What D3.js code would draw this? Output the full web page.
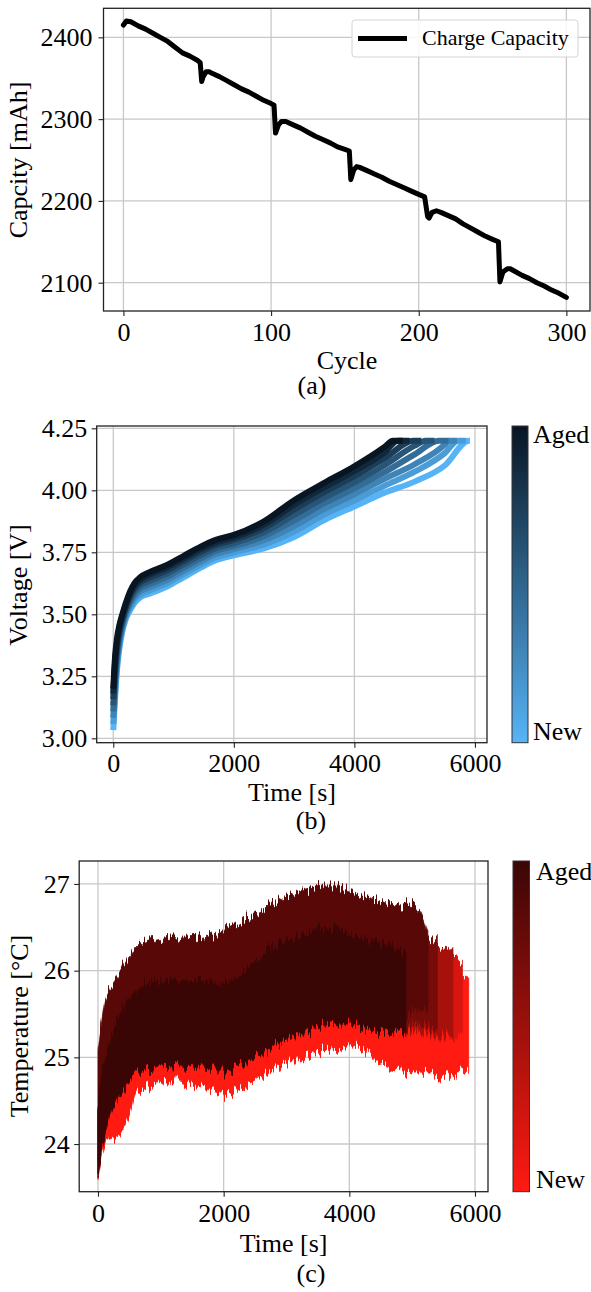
<!DOCTYPE html>
<html><head><meta charset="utf-8">
<script src="https://cdn.jsdelivr.net/npm/d3@7"></script>
<style>
body{margin:0;background:#fff;}
svg{display:block;}
text{font-family:"Liberation Serif","Times New Roman",serif;fill:#000;}
</style></head><body>
<svg id="fig" width="591" height="1292"></svg>
<script>
// ---------- Panel (a): charge capacity vs cycle ----------
const capCycle = [0,2,5,10,15,20,25,30,35,40,45,50,52,53,54,56,58,60,65,70,75,80,85,90,95,100,102,103,105,107,110,115,120,125,130,135,140,145,150,153,154,156,158,160,165,170,175,180,185,190,195,200,204,206,207,209,212,215,220,225,230,235,240,245,250,254,255,257,260,262,265,270,275,280,285,290,295,300];
const capValue = [2415,2420,2419,2414,2410,2405,2400,2395,2388,2381,2377,2372,2369,2346,2352,2358,2358,2356,2352,2347,2342,2337,2333,2328,2323,2319,2317,2283,2293,2297,2297,2293,2289,2284,2279,2275,2271,2266,2263,2261,2226,2238,2242,2241,2237,2233,2229,2224,2220,2216,2212,2208,2205,2181,2179,2186,2188,2186,2182,2178,2172,2167,2162,2157,2153,2150,2101,2113,2117,2117,2114,2109,2105,2100,2096,2091,2087,2082];
const capTicksX = [0,100,200,300];
const capTicksY = [2100,2200,2300,2400];

// ---------- Panel (b): voltage curves (new -> aged) ----------
const timeV = [0,30,60,100,150,200,275,350,450,600,900,1150,1450,1700,2000,2500,3000,3500,4000,4500,5000,5500];
const volt0 = [3.033,3.160,3.270,3.360,3.430,3.475,3.515,3.545,3.568,3.583,3.613,3.647,3.688,3.718,3.738,3.766,3.812,3.880,3.935,3.990,4.035,4.100];
const volt1 = [3.058,3.186,3.290,3.374,3.441,3.485,3.526,3.557,3.580,3.596,3.626,3.660,3.701,3.730,3.750,3.782,3.834,3.902,3.959,4.018,4.075,4.150];
const volt2 = [3.083,3.211,3.309,3.389,3.451,3.495,3.538,3.569,3.593,3.609,3.639,3.673,3.714,3.743,3.763,3.799,3.856,3.925,3.984,4.046,4.105,4.185];
const volt3 = [3.108,3.237,3.329,3.403,3.462,3.504,3.549,3.581,3.605,3.622,3.652,3.686,3.726,3.755,3.775,3.815,3.879,3.948,4.008,4.073,4.145];
const volt4 = [3.133,3.262,3.348,3.417,3.472,3.514,3.560,3.593,3.617,3.635,3.665,3.699,3.739,3.767,3.787,3.831,3.901,3.970,4.032,4.101,4.180];
const volt5 = [3.158,3.288,3.368,3.431,3.483,3.524,3.571,3.605,3.630,3.648,3.678,3.712,3.752,3.780,3.800,3.848,3.923,3.993,4.057,4.129];
const volt6 = [3.180,3.310,3.384,3.444,3.492,3.532,3.581,3.615,3.640,3.660,3.690,3.723,3.763,3.790,3.810,3.862,3.942,4.012,4.078,4.153];
const volt7 = [3.200,3.330,3.400,3.455,3.500,3.540,3.590,3.625,3.650,3.670,3.700,3.733,3.773,3.800,3.820,3.875,3.960,4.030,4.097,4.175];
const voltReach = [5900,5720,5560,5400,5180,4980,4720,4640];   // time when 4.2 V is reached
const voltEnd   = [5917,5850,5700,5560,5330,5110,4915,4800];   // end of the 4.2 V hold
const voltCutoff = 4.2;
const voltAge = [0,0.15,0.30,0.45,0.60,0.75,0.88,1.0];
const voltTicksX = [0,2000,4000,6000];
const voltTicksY = [3.00,3.25,3.50,3.75,4.00,4.25];

// ---------- Panel (c): temperature envelopes (new -> aged) ----------
const timeT = [0,50,100,200,300,400,500,600,750,1000,1250,1500,1750,2000,2250,2500,2750,3000,3250,3500,3750,4000,4250,4500,4750,4900,5000,5100,5250,5400,5500,5650,5800,5900];
const temp0Low  = [23.60,23.85,23.97,24.06,24.07,24.18,24.33,24.55,24.65,24.70,24.73,24.68,24.64,24.57,24.63,24.74,24.85,24.93,25.00,25.07,25.10,25.12,25.08,24.93,24.85,24.84,24.83,24.83,24.82,24.80,24.78,24.80,24.82,24.85];
const temp0High = [23.90,24.20,24.36,24.66,24.80,24.92,25.02,25.10,25.16,25.19,25.20,25.19,25.17,25.13,25.22,25.30,25.42,25.50,25.58,25.65,25.70,25.68,25.63,25.60,25.60,25.58,25.60,25.62,25.65,25.70,25.75,25.80,25.90,25.95];
const temp1Low  = [23.67,23.95,24.11,24.41,24.55,24.67,24.77,24.85,24.91,24.94,24.95,24.94,24.92,24.88,24.97,25.05,25.17,25.25,25.33,25.40,25.45,25.43,25.38,25.35,25.35,25.33,25.30,25.28,25.25,25.25,25.22,25.22,25.25];
const temp1High = [24.40,24.75,24.92,25.20,25.42,25.57,25.68,25.76,25.83,25.88,25.89,25.87,25.88,25.84,25.95,26.10,26.25,26.35,26.42,26.47,26.48,26.44,26.37,26.32,26.27,26.20,26.20,26.20,26.18,26.15,26.15,26.12,26.10];
const temp2Low  = [23.67,23.95,24.11,24.41,24.55,24.67,24.77,24.85,24.91,24.94,24.95,24.94,24.92,24.88,24.97,25.05,25.17,25.25,25.33,25.40,25.45,25.43,25.38,25.35,25.35,25.33,25.32,25.30,25.28,25.27,25.25,25.25];
const temp2High = [24.40,24.75,24.92,25.20,25.42,25.57,25.68,25.76,25.83,25.88,25.89,25.87,25.88,25.84,25.95,26.10,26.25,26.35,26.42,26.47,26.48,26.44,26.37,26.32,26.27,26.20,26.30,26.30,26.28,26.25,26.25,26.20];
const temp3Low  = [23.67,23.95,24.11,24.41,24.55,24.67,24.77,24.85,24.91,24.94,24.95,24.94,24.92,24.88,24.97,25.05,25.17,25.25,25.33,25.40,25.45,25.43,25.38,25.35,25.35,25.33,25.40,25.38,25.35,25.33];
const temp3High = [24.40,24.75,24.92,25.20,25.42,25.57,25.68,25.76,25.83,25.88,25.89,25.87,25.88,25.84,25.95,26.10,26.25,26.35,26.42,26.47,26.48,26.44,26.37,26.32,26.27,26.20,26.40,26.40,26.38,26.35];
const temp4Low  = [23.82,24.10,24.26,24.56,24.70,24.82,24.92,25.00,25.06,25.09,25.10,25.09,25.07,25.03,25.12,25.20,25.32,25.40,25.48,25.55,25.60,25.58,25.53,25.50,25.50,25.48,25.55,25.55,25.55];
const temp4High = [25.08,25.35,25.60,25.80,25.92,26.06,26.15,26.27,26.33,26.36,26.38,26.37,26.40,26.45,26.55,26.65,26.75,26.85,26.93,26.97,26.98,26.93,26.86,26.80,26.76,26.76,26.75,26.72,26.45];
const temp5Low  = [23.62,23.90,24.06,24.36,24.50,24.62,24.72,24.80,24.86,24.89,24.90,24.89,24.87,24.83,24.92,25.00,25.12,25.20,25.28,25.35,25.40,25.38,25.33,25.30,25.30,25.28];
const temp5High = [24.40,24.75,24.92,25.20,25.42,25.57,25.68,25.76,25.83,25.88,25.89,25.87,25.88,25.84,25.95,26.10,26.25,26.35,26.42,26.47,26.48,26.44,26.37,26.32,26.27,26.20];
const tempAge = [0,0.2,0.45,0.7,0.85,1.0];
const tempTicksX = [0,2000,4000,6000];
const tempTicksY = [24,25,26,27];

const colorbarLabels = ["Aged","New"];

// ---------- helpers ----------
const svg = d3.select("#fig");
const defs = svg.append("defs");
const FS = 26;
const SERIF = '"Liberation Serif","Times New Roman",serif';

const blueMap = d3.interpolateRgb("#56b4f6", "#081522");
const redMap  = d3.interpolateRgb("#ff1a12", "#3a0605");

function frame(g, x, y, xTicks, yTicks) {
  const [x0, x1] = x.range(), [yb, yt] = y.range();
  g.append("g").selectAll("line").data(xTicks).join("line")
    .attr("x1", d => x(d)).attr("x2", d => x(d)).attr("y1", yt).attr("y2", yb)
    .attr("stroke", "#c8c8c8").attr("stroke-width", 1.3);
  g.append("g").selectAll("line").data(yTicks).join("line")
    .attr("y1", d => y(d)).attr("y2", d => y(d)).attr("x1", x0).attr("x2", x1)
    .attr("stroke", "#c8c8c8").attr("stroke-width", 1.3);
}
function axesOnTop(g, x, y, xTicks, yTicks, yFmt, xPad, yPad) {
  const [x0, x1] = x.range(), [yb, yt] = y.range();
  const ax = g.append("g").attr("transform", `translate(0,${yb})`)
    .call(d3.axisBottom(x).tickValues(xTicks).tickSize(5).tickPadding(xPad).tickFormat(d3.format("d")));
  const ay = g.append("g").attr("transform", `translate(${x0},0)`)
    .call(d3.axisLeft(y).tickValues(yTicks).tickSize(5).tickPadding(yPad).tickFormat(yFmt));
  [ax, ay].forEach(a => {
    a.attr("font-family", SERIF);
    a.select(".domain").remove();
    a.selectAll("line").attr("stroke", "#222").attr("stroke-width", 1.1);
    a.selectAll("text").attr("font-size", FS).attr("fill", "#000");
  });
  g.append("rect").attr("x", x0).attr("y", yt).attr("width", x1 - x0).attr("height", yb - yt)
    .attr("fill", "none").attr("stroke", "#222").attr("stroke-width", 1.3);
}
function ylabel(txt, x, y) {
  svg.append("text").attr("transform", `translate(${x},${y}) rotate(-90)`)
    .attr("text-anchor", "middle").attr("font-size", FS).text(txt);
}
function label(txt, x, y) {
  svg.append("text").attr("x", x).attr("y", y).attr("text-anchor", "middle").attr("font-size", FS).text(txt);
}
function colorbar(id, cmap, x, y0, y1, w, lx, lyTop, lyBot) {
  const grad = defs.append("linearGradient").attr("id", id)
    .attr("x1", 0).attr("y1", 1).attr("x2", 0).attr("y2", 0);
  d3.range(0, 1.0001, 0.05).forEach(t => grad.append("stop").attr("offset", t).attr("stop-color", cmap(t)));
  svg.append("rect").attr("x", x).attr("y", y0).attr("width", w).attr("height", y1 - y0)
    .attr("fill", `url(#${id})`).attr("stroke", "#333").attr("stroke-width", 1);
  svg.append("text").attr("x", lx).attr("y", lyTop).attr("font-size", FS).text(colorbarLabels[0]);
  svg.append("text").attr("x", lx).attr("y", lyBot).attr("font-size", FS).text(colorbarLabels[1]);
}

// ---------- Panel (a) ----------
{
  const x = d3.scaleLinear().domain([-13.5, 316]).range([103.5, 590]);
  const y = d3.scaleLinear().domain([2065.4, 2435.5]).range([311, 8.3]);
  const g = svg.append("g");
  frame(g, x, y, capTicksX, capTicksY);
  const pts = capCycle.map((c, i) => [c, capValue[i]]);
  g.append("path").datum(pts)
    .attr("d", d3.line().x(d => x(d[0])).y(d => y(d[1])))
    .attr("fill", "none").attr("stroke", "#000").attr("stroke-width", 5)
    .attr("stroke-linejoin", "round").attr("stroke-linecap", "round");
  axesOnTop(g, x, y, capTicksX, capTicksY, d3.format("d"), 6.5, 6);
  const lg = g.append("g");
  lg.append("rect").attr("x", 352).attr("y", 20).attr("width", 226).attr("height", 37).attr("rx", 3)
    .attr("fill", "#fff").attr("fill-opacity", 0.85).attr("stroke", "#d4d4d4").attr("stroke-width", 1);
  lg.append("line").attr("x1", 358).attr("x2", 407).attr("y1", 38.5).attr("y2", 38.5)
    .attr("stroke", "#000").attr("stroke-width", 5);
  lg.append("text").attr("x", 422).attr("y", 45).attr("font-size", 22).text("Charge Capacity");
  ylabel("Capcity [mAh]", 27, 160);
  label("Cycle", 347, 369);
  label("(a)", 312, 394);
}

// ---------- Panel (b) ----------
{
  const x = d3.scaleLinear().domain([-275, 6200]).range([96.7, 487]);
  const y = d3.scaleLinear().domain([2.9823, 4.2593]).range([742.7, 426]);
  const g = svg.append("g");
  frame(g, x, y, voltTicksX, voltTicksY);
  const curves = [volt0, volt1, volt2, volt3, volt4, volt5, volt6, volt7];
  const line = d3.line().x(d => x(d[0])).y(d => y(d[1])).curve(d3.curveMonotoneX);
  curves.forEach((v, k) => {
    const pts = v.map((val, i) => [timeV[i], val]);
    pts.push([voltReach[k], voltCutoff], [voltEnd[k], voltCutoff]);
    g.append("path").datum(pts).attr("d", line)
      .attr("fill", "none").attr("stroke", blueMap(voltAge[k])).attr("stroke-width", 6)
      .attr("stroke-linejoin", "round").attr("stroke-linecap", "butt");
  });
  axesOnTop(g, x, y, voltTicksX, voltTicksY, d3.format(".2f"), 5.5, 4.5);
  colorbar("cbBlue", blueMap, 512, 426, 742.7, 16, 533, 443, 740);
  ylabel("Voltage [V]", 27, 585);
  label("Time [s]", 292, 801);
  label("(b)", 311, 829);
}

// ---------- Panel (c) ----------
{
  const x = d3.scaleLinear().domain([-299, 6207]).range([79.2, 488]);
  const y = d3.scaleLinear().domain([23.45, 27.265]).range([1191.7, 861]);
  const g = svg.append("g");
  frame(g, x, y, tempTicksX, tempTicksY);

  const flt = defs.append("filter").attr("id", "jag")
    .attr("filterUnits", "userSpaceOnUse").attr("x", 70).attr("y", 840).attr("width", 430).attr("height", 370)
    .attr("color-interpolation-filters", "sRGB");
  flt.append("feTurbulence").attr("type", "fractalNoise").attr("baseFrequency", "0.5 0.008")
    .attr("numOctaves", 2).attr("seed", 5).attr("result", "noise");
  flt.append("feColorMatrix").attr("in", "noise").attr("type", "matrix")
    .attr("values", "0 0 0 0 0.5  0 1 0 0 0  0 0 0 0 0  0 0 0 0 1").attr("result", "disp");
  flt.append("feDisplacementMap").attr("in", "SourceGraphic").attr("in2", "disp").attr("scale", 26)
    .attr("xChannelSelector", "R").attr("yChannelSelector", "G");

  const lows = [temp0Low, temp1Low, temp2Low, temp3Low, temp4Low, temp5Low];
  const highs = [temp0High, temp1High, temp2High, temp3High, temp4High, temp5High];
  const area = d3.area().x(d => x(d.t)).y0(d => y(d.lo)).y1(d => y(d.hi)).curve(d3.curveMonotoneX);
  lows.forEach((lo, k) => {
    const pts = lo.map((v, i) => ({t: timeT[i], lo: v, hi: highs[k][i]}));
    g.append("path").datum(pts).attr("d", area)
      .attr("fill", redMap(tempAge[k])).attr("stroke", redMap(tempAge[k])).attr("stroke-width", 0.8)
      .attr("filter", "url(#jag)");
  });
  axesOnTop(g, x, y, tempTicksX, tempTicksY, d3.format("d"), 6.5, 4.5);
  colorbar("cbRed", redMap, 513, 861, 1191.7, 16.5, 536, 880, 1188);
  ylabel("Temperature [°C]", 28, 1026);
  label("Time [s]", 283.6, 1252);
  label("(c)", 311, 1282);
}
</script>
</body></html>
